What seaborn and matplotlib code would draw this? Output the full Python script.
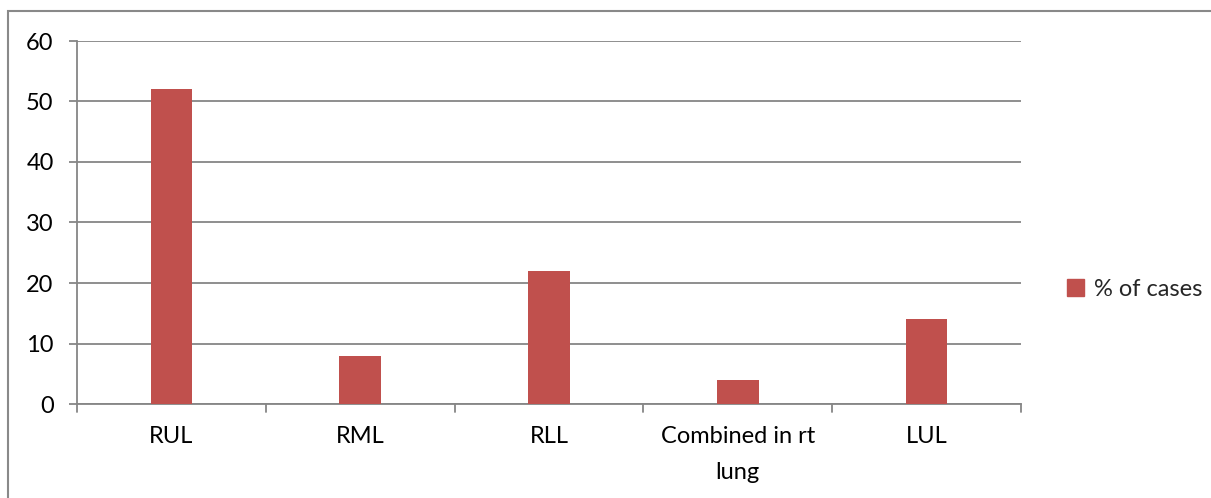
import matplotlib
matplotlib.use("Agg")
import matplotlib.pyplot as plt
import matplotlib.patches as mpatches
import seaborn as sns
import pandas as pd

categories = ["RUL", "RML", "RLL", "Combined in rt\nlung", "LUL"]
pct_cases = [52, 8, 22, 4, 14]
series_name = "% of cases"
y_ticks = [0, 10, 20, 30, 40, 50, 60]

df = pd.DataFrame({"lobe": categories, "pct": pct_cases, "series": series_name})

sns.set_theme(style="white")
plt.rcParams["font.family"] = ["Lato", "DejaVu Sans"]

W, H, DPI = 1211, 498, 100
FS = 17
fig = plt.figure(figsize=(W / DPI, H / DPI), dpi=DPI)
ax = fig.add_axes([77 / W, 1 - 404 / H, (1021 - 77) / W, (404 - 41) / H])

bar_color = "#C0504D"
grid_color = "#868686"

sns.barplot(data=df, x="lobe", y="pct", hue="series", palette=[bar_color],
            width=0.22, saturation=1, ax=ax, legend=False, zorder=3,
            edgecolor="none", linewidth=0)

ax.set_ylim(0, 60)
ax.set_xlim(-0.5, len(categories) - 0.5)
ax.set_yticks(y_ticks)
ax.set_yticklabels([str(v) for v in y_ticks], fontsize=FS, color="black")
ax.set_xticks(range(len(categories)))
ax.set_xticklabels(categories, fontsize=FS, color="black", linespacing=1.85)
ax.tick_params(axis="x", length=0, pad=16)
ax.tick_params(axis="y", length=5.8, width=1.3, color=grid_color, pad=11, left=True)

# boundary ticks between categories on the x axis
for b in [i - 0.5 for i in range(len(categories) + 1)]:
    ax.plot([b, b], [0, -0.022], transform=ax.get_xaxis_transform(),
            color=grid_color, lw=1.3, clip_on=False, zorder=4)

ax.grid(axis="y", color=grid_color, lw=1.3, zorder=0)
ax.grid(axis="x", visible=False)
ax.set_xlabel("")
ax.set_ylabel("")
for side in ["top", "right"]:
    ax.spines[side].set_visible(False)
for side in ["left", "bottom"]:
    ax.spines[side].set_color(grid_color)
    ax.spines[side].set_linewidth(1.3)

handle = mpatches.Patch(color=bar_color, label=series_name)
fig.legend(handles=[handle], loc="center left",
           bbox_to_anchor=(1055 / W, 1 - 289 / H), frameon=False,
           fontsize=FS, handlelength=0.9 * 14 / FS, handleheight=0.9 * 14 / FS,
           handletextpad=0.4, borderpad=0)

# chart-area border
fig.patches.append(mpatches.Rectangle((8 / W, -0.01), 1.02, 1 - 11 / H + 0.01,
                                      transform=fig.transFigure, fill=False,
                                      edgecolor="#898989", lw=1.5))

fig.savefig("out.png", dpi=DPI)
